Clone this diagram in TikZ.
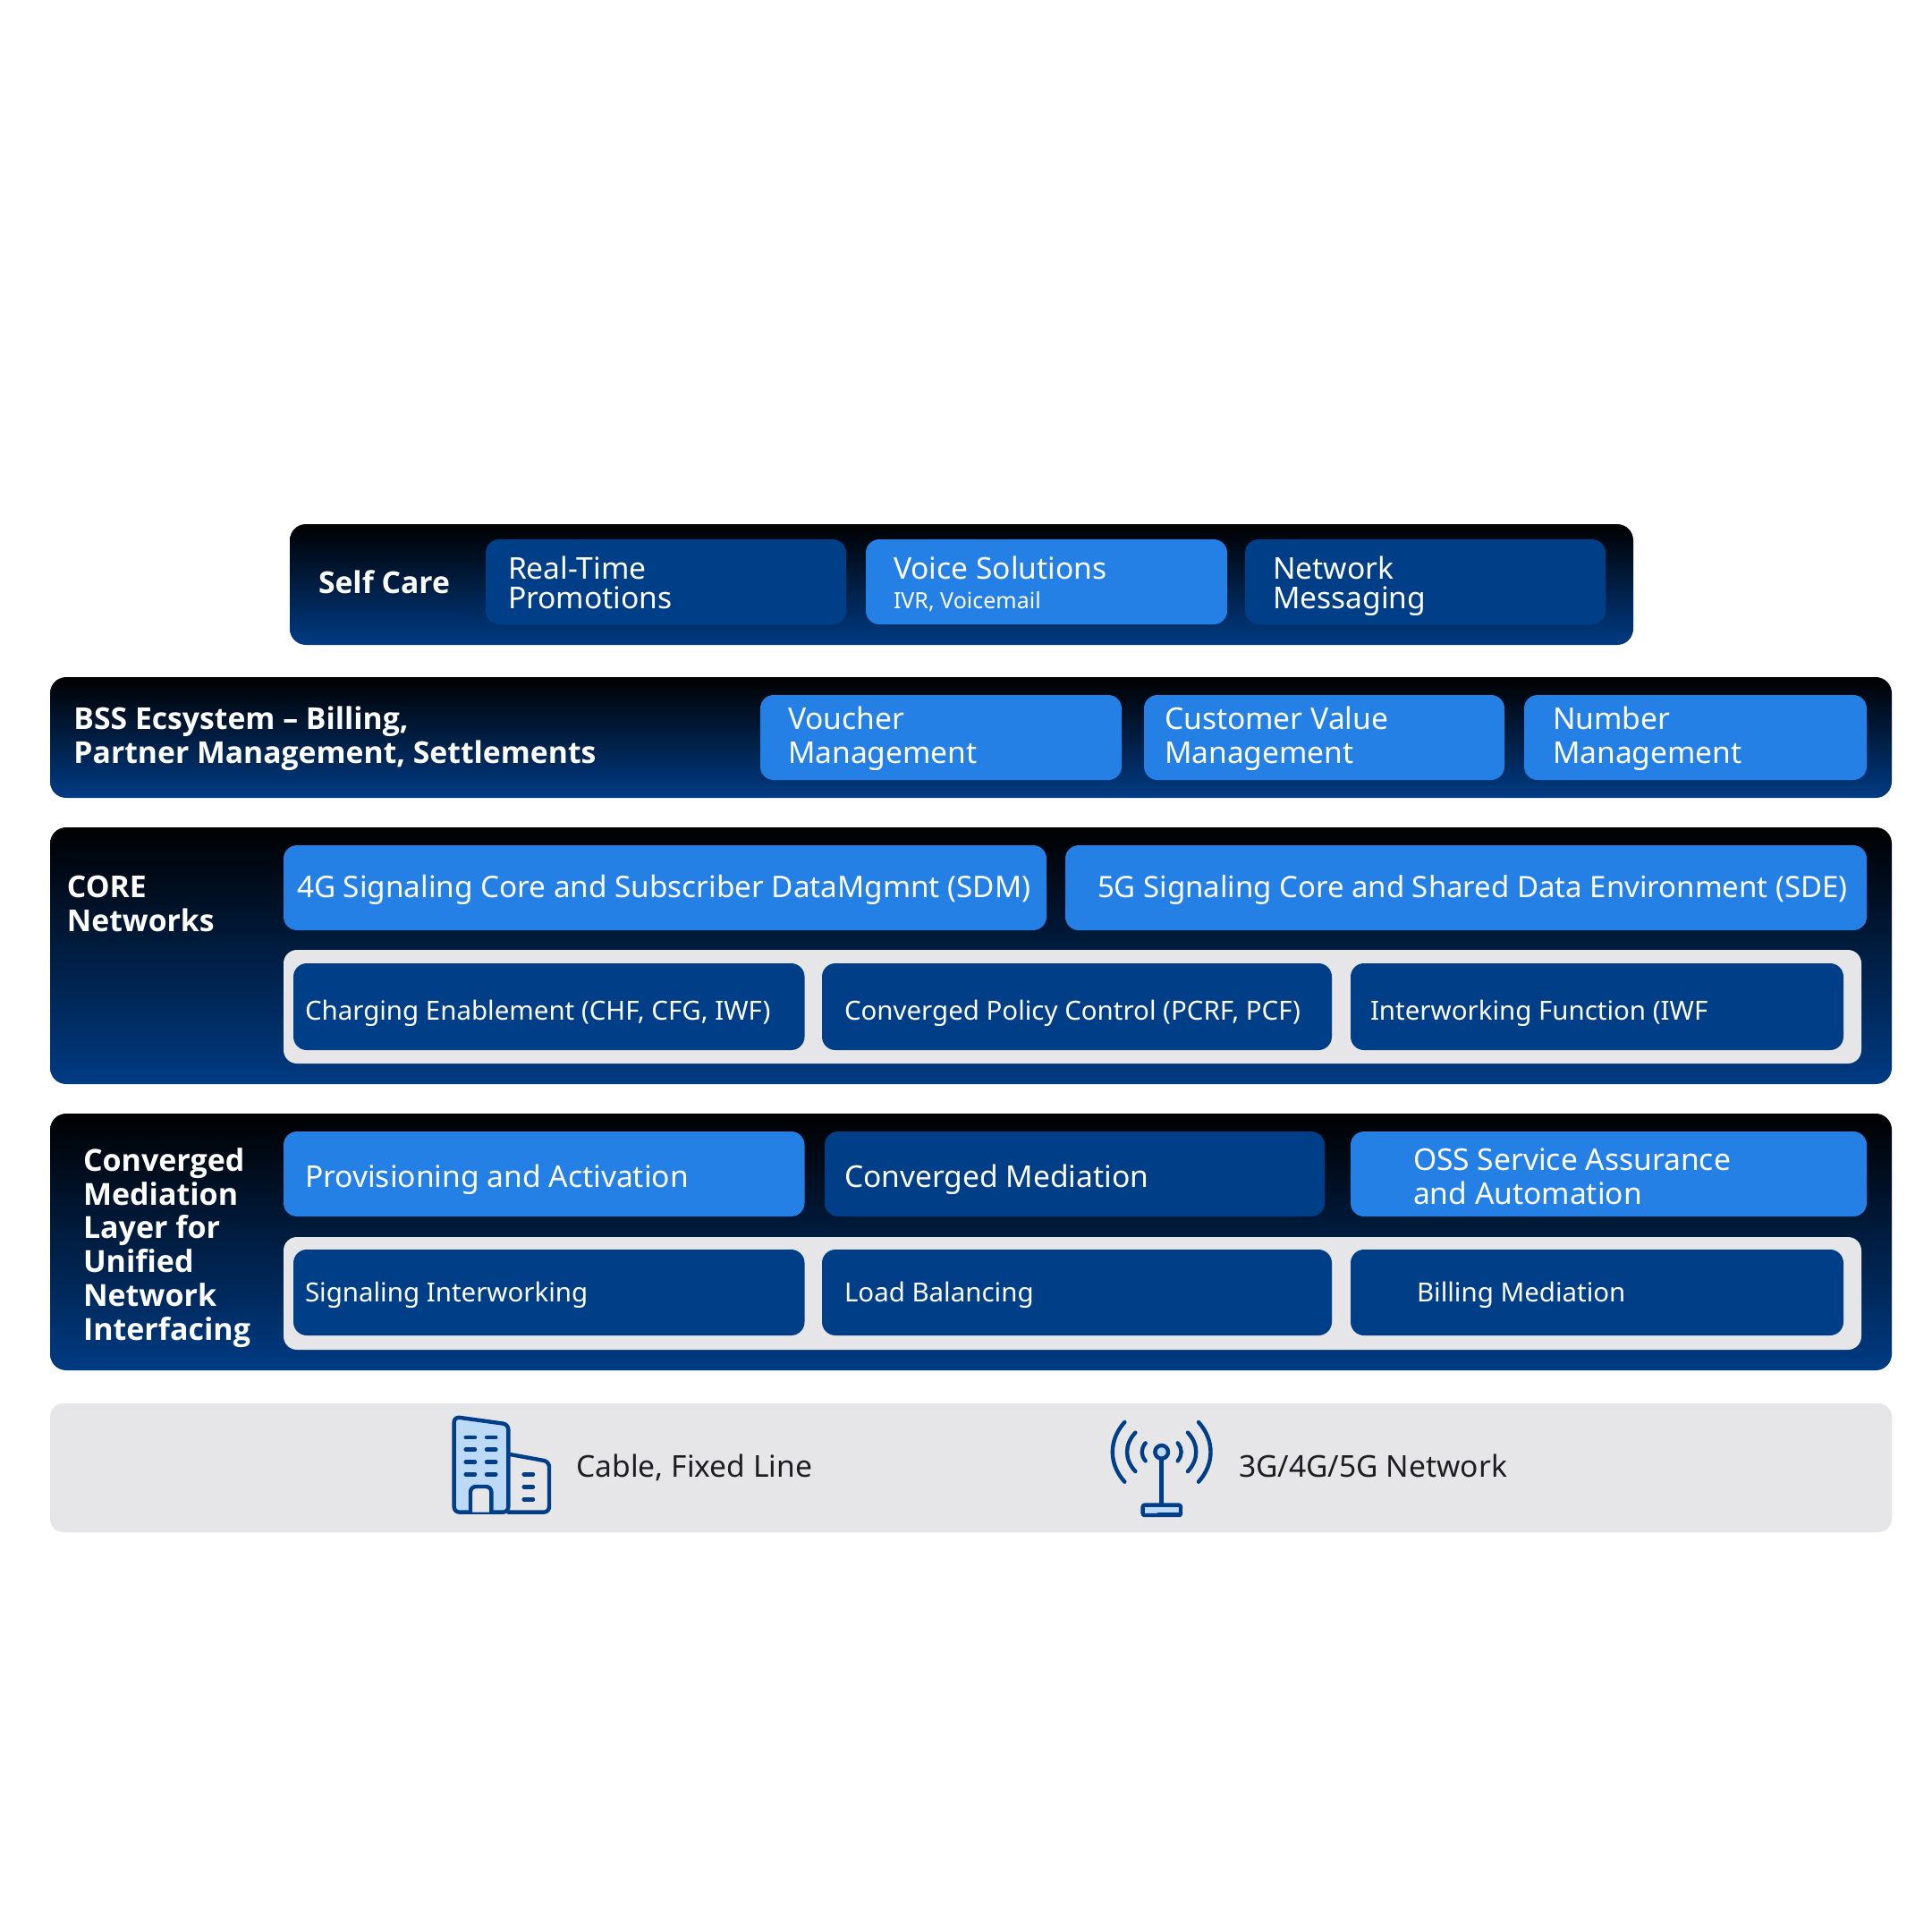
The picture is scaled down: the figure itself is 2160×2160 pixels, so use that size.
\documentclass[tikz,border=0pt]{standalone}
\usepackage{fontspec}
\setmainfont{Noto Sans}
\newfontfamily\headfont{Open Sans}
\definecolor{deep}{HTML}{003E88}
\definecolor{bright}{HTML}{2580E6}
\definecolor{pale}{HTML}{E6E6E9}
\definecolor{tint}{HTML}{BCDAF6}
\definecolor{ink}{HTML}{1E1E22}
\definecolor{panelend}{HTML}{003B84}
\tikzset{
 x=0.5pt,y=-0.5pt,
 boxbase/.style={inner sep=0pt,outer sep=0pt,anchor=north west,rounded corners=7.5pt},
 panel/.style={boxbase,rounded corners=9pt,top color=black,bottom color=panelend},
 brightbox/.style={boxbase,fill=bright},
 deepbox/.style={boxbase,fill=deep},
 palebox/.style={boxbase,fill=pale},
 txt/.style={inner sep=0pt,outer sep=0pt,anchor=base west,align=left,text=white,font=\fontsize{16.8}{16.5}\selectfont},
 fourtxt/.style={txt,font=\fontsize{16.65}{18}\selectfont},
 fivetxt/.style={txt,font=\fontsize{16.48}{18}\selectfont},
 smalltxt/.style={txt,font=\fontsize{14.73}{18}\selectfont},
 tinytxt/.style={txt,font=\fontsize{12.5}{15}\selectfont},
 headtxt/.style={txt,font=\headfont\fontsize{16.85}{19}\selectfont\bfseries},
 medtxt/.style={txt,font=\headfont\fontsize{17}{18.85}\selectfont\bfseries},
 widetxt/.style={txt,font=\fontsize{16.8}{19}\selectfont},
 darktxt/.style={txt,text=ink},
 iconline/.style={draw=deep,line width=2.2pt,line join=round,line cap=round},
 dashline/.style={deep,line width=2.2pt,line cap=round},
}
\newcommand{\bx}[6]{\node[#6,minimum width={(#4-#2)*0.5pt},minimum height={(#5-#3)*0.5pt}] (#1) at (#2,#3) {};}
\begin{document}
\begin{tikzpicture}
\useasboundingbox (0,0) rectangle (2160,2160);
\fill[white] (0,0) rectangle (2160,2160);
% panels
\bx{pSelf}{324}{586}{1826}{721}{panel}
\bx{pBss}{56}{757}{2115}{892}{panel}
\bx{pCore}{56}{925}{2115}{1212}{panel}
\bx{pMed}{56}{1245}{2115}{1532}{panel}
\bx{pBase}{56}{1569}{2115}{1713}{palebox}
% self care
\node[headtxt] (tSelf) at (356,663) {Self Care};
\bx{bRt}{543}{603}{946}{698}{deepbox}
\bx{bVs}{968}{603}{1372}{698}{brightbox}
\bx{bNm}{1392}{603}{1795}{698}{deepbox}
\node[txt] (tRt) at (568,680) {Real-Time\\Promotions};
\node[txt] (tVs) at (999,647) {Voice Solutions};
\node[tinytxt] (tVs2) at (999,680) {IVR, Voicemail};
\node[txt] (tNm) at (1423,680) {Network\\Messaging};
% bss
\node[headtxt] (tBss) at (82.5,853) {BSS Ecsystem – Billing,\\Partner Management, Settlements};
\bx{bVm}{850}{777}{1254}{872}{brightbox}
\bx{bCv}{1279}{777}{1682}{872}{brightbox}
\bx{bNu}{1704}{777}{2087}{872}{brightbox}
\node[widetxt] (tVm) at (881,853) {Voucher\\Management};
\node[widetxt] (tCv) at (1302,853) {Customer Value\\Management};
\node[widetxt] (tNu) at (1736,853) {Number\\Management};
% core
\node[headtxt] (tCore) at (75,1041) {CORE\\Networks};
\bx{b4g}{317}{945}{1170}{1040}{brightbox}
\bx{b5g}{1191}{945}{2087}{1040}{brightbox}
\node[fourtxt] (t4g) at (332,1003) {4G Signaling Core and Subscriber DataMgmnt (SDM)};
\node[fivetxt] (t5g) at (1227,1003) {5G Signaling Core and Shared Data Environment (SDE)};
\bx{gCore}{317}{1062}{2081}{1189}{palebox}
\bx{bCh}{328}{1077}{899.5}{1174}{deepbox}
\bx{bPo}{919}{1077}{1489}{1174}{deepbox}
\bx{bIw}{1510}{1077}{2061}{1174}{deepbox}
\node[smalltxt] (tCh) at (341,1140) {Charging Enablement (CHF, CFG, IWF)};
\node[smalltxt] (tPo) at (944,1140) {Converged Policy Control (PCRF, PCF)};
\node[smalltxt] (tIw) at (1532,1140) {Interworking Function (IWF};
% mediation
\node[medtxt] (tMed) at (93,1498) {Converged\\Mediation\\Layer for\\Unified\\Network\\Interfacing};
\bx{bPr}{317}{1265}{899.5}{1360}{brightbox}
\bx{bCm}{922}{1265}{1481}{1360}{deepbox}
\bx{bOs}{1510}{1265}{2087}{1360}{brightbox}
\node[txt] (tPr) at (341,1327) {Provisioning and Activation};
\node[txt] (tCm) at (944,1327) {Converged Mediation};
\node[widetxt] (tOs) at (1580,1346) {OSS Service Assurance\\and Automation};
\bx{gMed}{317}{1383}{2081}{1509}{palebox}
\bx{bSi}{328}{1397}{899.5}{1493}{deepbox}
\bx{bLb}{919}{1397}{1489}{1493}{deepbox}
\bx{bBm}{1510}{1397}{2061}{1493}{deepbox}
\node[smalltxt] (tSi) at (341,1455) {Signaling Interworking};
\node[smalltxt] (tLb) at (944,1455) {Load Balancing};
\node[smalltxt] (tBm) at (1584,1455) {Billing Mediation};
% base
\node[darktxt] (tCa) at (644.5,1651) {Cable, Fixed Line};
\node[darktxt] (t3g) at (1385,1651) {3G/4G/5G Network};
% building icon
\begin{scope}[shift={(470,1560)},xscale=1/3,yscale=1/3]
\draw[iconline,fill=tint,rounded corners=3pt] (113,392) -- (113,72) -- (295,97) -- (295,392) -- cycle;
\draw[iconline,rounded corners=3pt] (295,197) -- (432,222) -- (432,392) -- (295,392);
\draw[iconline,fill=pale,rounded corners=3pt] (168,392) -- (168,306) -- (238,306) -- (238,392);
\foreach \yy in {141,182,224,265}{
 \draw[dashline] (152,\yy) -- (183,\yy);
 \draw[dashline] (222,\yy) -- (253,\yy);
}
\foreach \yy in {265,307,349}{
 \draw[dashline] (347,\yy) -- (378,\yy);
}
\end{scope}
% antenna icon
\begin{scope}[shift={(1200,1560)},xscale=1/3,yscale=1/3]
\draw[iconline] (172,90) .. controls (118,150) and (118,230) .. (172,290);
\draw[iconline] (208,125) .. controls (171,165) and (171,215) .. (208,255);
\draw[iconline] (242,160) .. controls (226,180) and (226,200) .. (242,220);
\draw[iconline] (420,90) .. controls (474,150) and (474,230) .. (420,290);
\draw[iconline] (384,125) .. controls (421,165) and (421,215) .. (384,255);
\draw[iconline] (350,160) .. controls (366,180) and (366,200) .. (350,220);
\draw[iconline] (296,212) -- (296,375);
\draw[iconline,fill=tint] (296,190) circle[radius=22];
\draw[iconline,fill=tint,rounded corners=1pt] (233,368) rectangle (360,402);
\draw[iconline] (285,400) -- (358,400);
\end{scope}
\end{tikzpicture}
\end{document}
